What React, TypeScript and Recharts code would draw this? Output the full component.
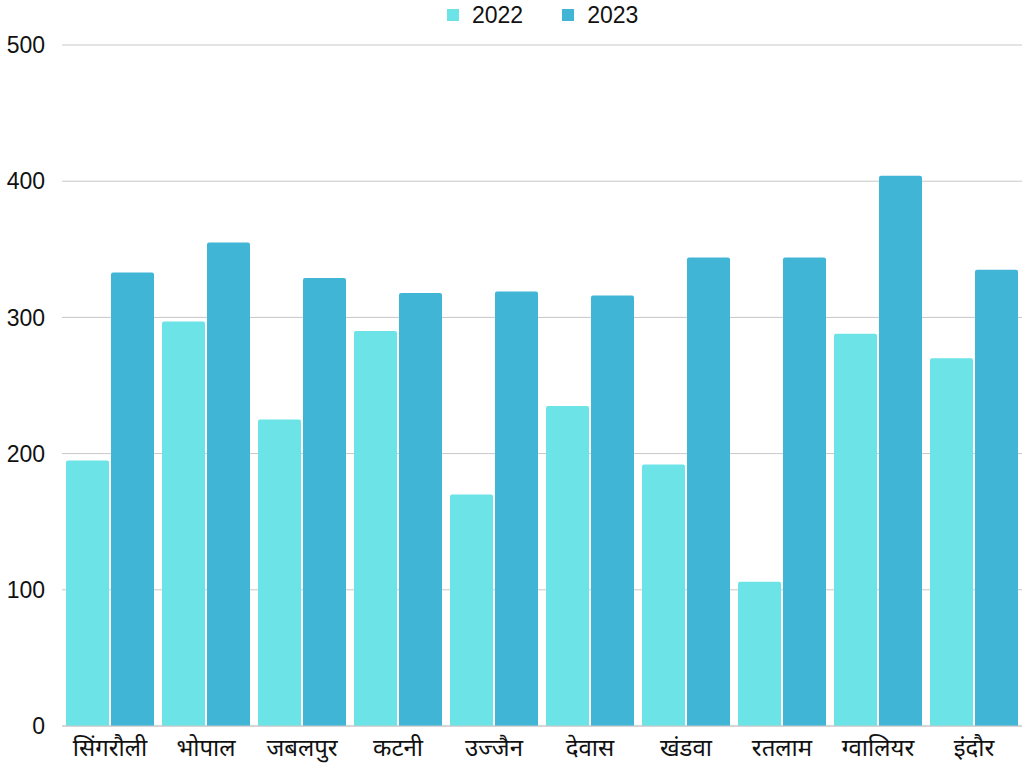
import { BarChart, Bar, XAxis, YAxis, CartesianGrid } from 'recharts';

const cities = ['सिंगरौली', 'भोपाल', 'जबलपुर', 'कटनी', 'उज्जैन', 'देवास', 'खंडवा', 'रतलाम', 'ग्वालियर', 'इंदौर'];
const values2022 = [195, 297, 225, 290, 170, 235, 192, 106, 288, 270];
const values2023 = [333, 355, 329, 318, 319, 316, 344, 344, 404, 335];
const yTicks = [0, 100, 200, 300, 400, 500];

const COLOR_2022 = '#6be3e7';
const COLOR_2023 = '#41b5d5';

const chartData = cities.map((c, i) => ({ city: c, '2022': values2022[i], '2023': values2023[i] }));

// legend drawn as plain html above the plot so it doesn't push the plot down
function LegendBox() {
  const items = [{ label: '2022', color: COLOR_2022 }, { label: '2023', color: COLOR_2023 }];
  return (
    <div style={{ position: 'absolute', left: 447, top: 2, display: 'flex', gap: 39, fontFamily: 'Liberation Sans, Arial, sans-serif', fontSize: 23, lineHeight: '26px' }}>
      {items.map(it => (
        <div key={it.label} style={{ display: 'flex', alignItems: 'center', gap: 13 }}>
          <span style={{ width: 12, height: 12, background: it.color, display: 'inline-block' }} />
          <span style={{ color: '#111' }}>{it.label}</span>
        </div>
      ))}
    </div>
  );
}

export default function App() {
  return (
    <div style={{ position: 'absolute', left: 0, top: 0, width: 1024, height: 768, background: '#fff', overflow: 'hidden' }}>
      <BarChart width={1024} height={768} data={chartData}
        margin={{ top: 45, right: 2, left: 0, bottom: 0 }}
        barCategoryGap={4} barGap={2}>
        <CartesianGrid vertical={false} stroke="#c8c8c8" strokeWidth={1} />
        <XAxis dataKey="city" axisLine={{ stroke: '#c8c8c8' }} tickLine={false} height={42} interval={0}
          tick={{ fontSize: 24, fill: '#111', fontFamily: 'Noto Sans, sans-serif' }} tickMargin={7} />
        <YAxis domain={[0, 500]} ticks={yTicks} axisLine={false} tickLine={false} width={62}
          tick={{ fontSize: 23, fill: '#111', fontFamily: 'Liberation Sans, Arial, sans-serif', dx: -9 }} />
        <Bar dataKey="2022" fill={COLOR_2022} radius={[2, 2, 0, 0]} isAnimationActive={false} />
        <Bar dataKey="2023" fill={COLOR_2023} radius={[2, 2, 0, 0]} isAnimationActive={false} />
      </BarChart>
      <LegendBox />
    </div>
  );
}
